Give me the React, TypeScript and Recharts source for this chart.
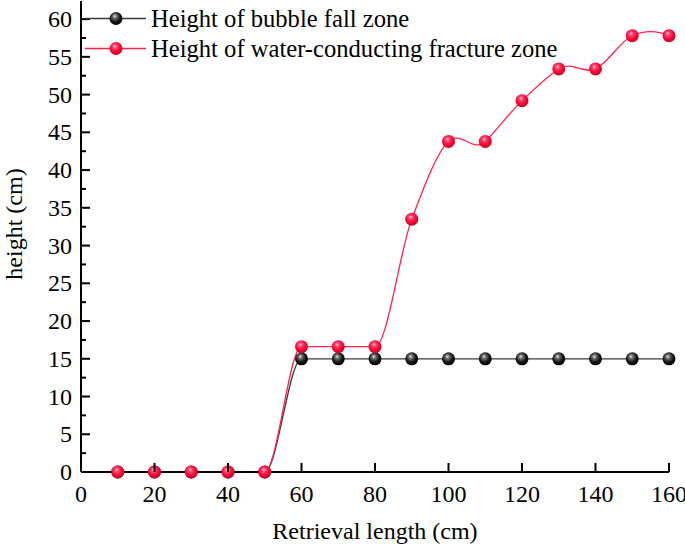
import React from 'react';
import { LineChart, Line, XAxis, YAxis, Legend } from 'recharts';

const lengths = [10, 20, 30, 40, 50, 60, 70, 80, 90, 100, 110, 120, 130, 140, 150, 160];
const bubbleFall = [0, 0, 0, 0, 0, 15, 15, 15, 15, 15, 15, 15, 15, 15, 15, 15];
const fractureZone = [0, 0, 0, 0, 0, 16.6, 16.6, 16.6, 33.5, 43.8, 43.8, 49.2, 53.4, 53.4, 57.8, 57.8];
const xTicks = [0, 20, 40, 60, 80, 100, 120, 140, 160];
const yTicks = [0, 2.5, 5, 7.5, 10, 12.5, 15, 17.5, 20, 22.5, 25, 27.5, 30, 32.5, 35, 37.5, 40, 42.5, 45, 47.5, 50, 52.5, 55, 57.5, 60];

const data = lengths.map((len, i) => ({
  len,
  bubble: bubbleFall[i],
  fracture: fractureZone[i],
}));

const FONT = '"Liberation Serif", "Times New Roman", serif';

// Akima-style spline, close to Origin's "spline" connect
const akimaCurve = (context: any) => {
  let xs: number[] = [];
  let ys: number[] = [];
  const draw = () => {
    const n = xs.length;
    if (!n) return;
    context.moveTo(xs[0], ys[0]);
    if (n < 3) {
      for (let i = 1; i < n; i++) context.lineTo(xs[i], ys[i]);
      return;
    }
    const m: number[] = [];
    for (let i = 0; i < n - 1; i++) m.push((ys[i + 1] - ys[i]) / (xs[i + 1] - xs[i]));
    const ext: number[] = [0, 0, ...m, 0, 0];
    ext[1] = 2 * ext[2] - ext[3];
    ext[0] = 2 * ext[1] - ext[2];
    ext[n + 1] = 2 * ext[n] - ext[n - 1];
    ext[n + 2] = 2 * ext[n + 1] - ext[n];
    const t: number[] = [];
    for (let i = 0; i < n; i++) {
      const m0 = ext[i], m1 = ext[i + 1], m2 = ext[i + 2], m3 = ext[i + 3];
      const w1 = Math.abs(m3 - m2);
      const w2 = Math.abs(m1 - m0);
      t.push(w1 + w2 > 1e-9 ? (w1 * m1 + w2 * m2) / (w1 + w2) : (m1 + m2) / 2);
    }
    for (let i = 0; i < n - 1; i++) {
      const h = xs[i + 1] - xs[i];
      context.bezierCurveTo(
        xs[i] + h / 3, ys[i] + (t[i] * h) / 3,
        xs[i + 1] - h / 3, ys[i + 1] - (t[i + 1] * h) / 3,
        xs[i + 1], ys[i + 1]
      );
    }
  };
  return {
    areaStart() {},
    areaEnd() {},
    lineStart() { xs = []; ys = []; },
    point(x: number, y: number) { xs.push(+x); ys.push(+y); },
    lineEnd() { draw(); },
  };
};

const Gradients = ({ prefix }: { prefix: string }) => (
  <defs>
    <radialGradient id={`${prefix}-red`} cx="45%" cy="40%" r="60%" fx="40%" fy="32%">
      <stop offset="0%" stopColor="#ffe0ea" />
      <stop offset="22%" stopColor="#ff5078" />
      <stop offset="60%" stopColor="#ff0a3a" />
      <stop offset="100%" stopColor="#c8001e" />
    </radialGradient>
    <radialGradient id={`${prefix}-black`} cx="45%" cy="40%" r="60%" fx="40%" fy="32%">
      <stop offset="0%" stopColor="#e8e8e8" />
      <stop offset="25%" stopColor="#707070" />
      <stop offset="65%" stopColor="#151515" />
      <stop offset="100%" stopColor="#000000" />
    </radialGradient>
  </defs>
);

const makeDot = (fill: string) => (props: any) => {
  const { cx, cy, index } = props;
  if (cx == null || cy == null) return <g key={`d-${index}`} />;
  return <circle key={`d-${index}`} cx={cx} cy={cy} r={6.5} fill={fill} />;
};

const YTick = (props: any) => {
  const { x, y, payload } = props;
  const major = payload.value % 5 === 0;
  return (
    <g>
      <line x1={x} x2={x + (major ? 9 : 5)} y1={y} y2={y} stroke="#000" strokeWidth={2} />
      {major && (
        <text x={x - 9} y={y + 8} textAnchor="end" fontFamily={FONT} fontSize={24} fill="#000">
          {payload.value}
        </text>
      )}
    </g>
  );
};

const XTick = (props: any) => {
  const { x, y, payload } = props;
  return (
    <g>
      <line x1={x} x2={x} y1={y} y2={y - 9} stroke="#000" strokeWidth={2} />
      <text x={x} y={y + 30} textAnchor="middle" fontFamily={FONT} fontSize={24} fill="#000">
        {payload.value}
      </text>
    </g>
  );
};

const legendRows = [
  { key: 'bubble', name: 'Height of bubble fall zone', line: '#3a3a3a', ball: 'lg-black' },
  { key: 'fracture', name: 'Height of water-conducting fracture zone', line: '#ff1f4b', ball: 'lg-red' },
];

const LegendContent = () => (
  <div style={{ fontFamily: FONT, fontSize: 24.6, color: '#000' }}>
    <svg width={0} height={0} style={{ position: 'absolute' }}>
      <Gradients prefix="lg" />
    </svg>
    {legendRows.map((row) => (
      <div key={row.key} style={{ display: 'flex', alignItems: 'center', height: 29.5 }}>
        <svg width={66} height={29} style={{ display: 'block' }}>
          <line x1={2} x2={63} y1={14.5} y2={14.5} stroke={row.line} strokeWidth={1.4} />
          <circle cx={33} cy={14.5} r={6.5} fill={`url(#${row.ball})`} />
        </svg>
        <span style={{ marginLeft: 2, whiteSpace: 'nowrap', lineHeight: '29px' }}>{row.name}</span>
      </div>
    ))}
  </div>
);

export default function App() {
  return (
    <div style={{ position: 'absolute', left: 0, top: 0, width: 685, height: 548, background: '#fff' }}>
      <LineChart width={685} height={548} data={data} margin={{ top: 1, right: 16, bottom: 0, left: 0 }}>
        <Gradients prefix="pt" />
        <XAxis
          dataKey="len"
          type="number"
          domain={[0, 160]}
          ticks={xTicks}
          interval={0}
          height={76}
          tickSize={0}
          tickMargin={0}
          tickLine={false}
          axisLine={{ stroke: '#000', strokeWidth: 2 }}
          tick={<XTick />}
          label={{
            content: () => (
              <text x={375} y={539} textAnchor="middle" fontFamily={FONT} fontSize={24} fill="#000">
                Retrieval length (cm)
              </text>
            ),
          }}
        />
        <XAxis
          xAxisId="top"
          orientation="top"
          dataKey="len"
          type="number"
          domain={[0, 160]}
          height={0}
          tick={false}
          tickLine={false}
          axisLine={{ stroke: '#000', strokeWidth: 2 }}
        />
        <YAxis
          type="number"
          domain={[0, 62.4]}
          ticks={yTicks}
          interval={0}
          width={81}
          tickSize={0}
          tickMargin={0}
          tickLine={false}
          axisLine={{ stroke: '#000', strokeWidth: 2 }}
          tick={<YTick />}
          label={{
            content: () => (
              <text
                transform="translate(22,224) rotate(-90)"
                textAnchor="middle"
                fontFamily={FONT}
                fontSize={24}
                fill="#000"
              >
                height (cm)
              </text>
            ),
          }}
        />
        <YAxis
          yAxisId="right"
          orientation="right"
          type="number"
          domain={[0, 62.4]}
          width={0}
          tick={false}
          tickLine={false}
          axisLine={{ stroke: '#000', strokeWidth: 2 }}
        />
        <Legend
          layout="horizontal"
          align="center"
          verticalAlign="middle"
          wrapperStyle={{ top: 4, left: 83, width: 'auto' }}
          content={<LegendContent />}
        />
        <Line
          dataKey="bubble"
          name="Height of bubble fall zone"
          type={akimaCurve as any}
          stroke="#3a3a3a"
          strokeWidth={1.3}
          dot={makeDot('url(#pt-black)')}
          activeDot={false}
          isAnimationActive={false}
        />
        <Line
          dataKey="fracture"
          name="Height of water-conducting fracture zone"
          type={akimaCurve as any}
          stroke="#ff1f4b"
          strokeWidth={1.3}
          dot={makeDot('url(#pt-red)')}
          activeDot={false}
          isAnimationActive={false}
        />
      </LineChart>
    </div>
  );
}
